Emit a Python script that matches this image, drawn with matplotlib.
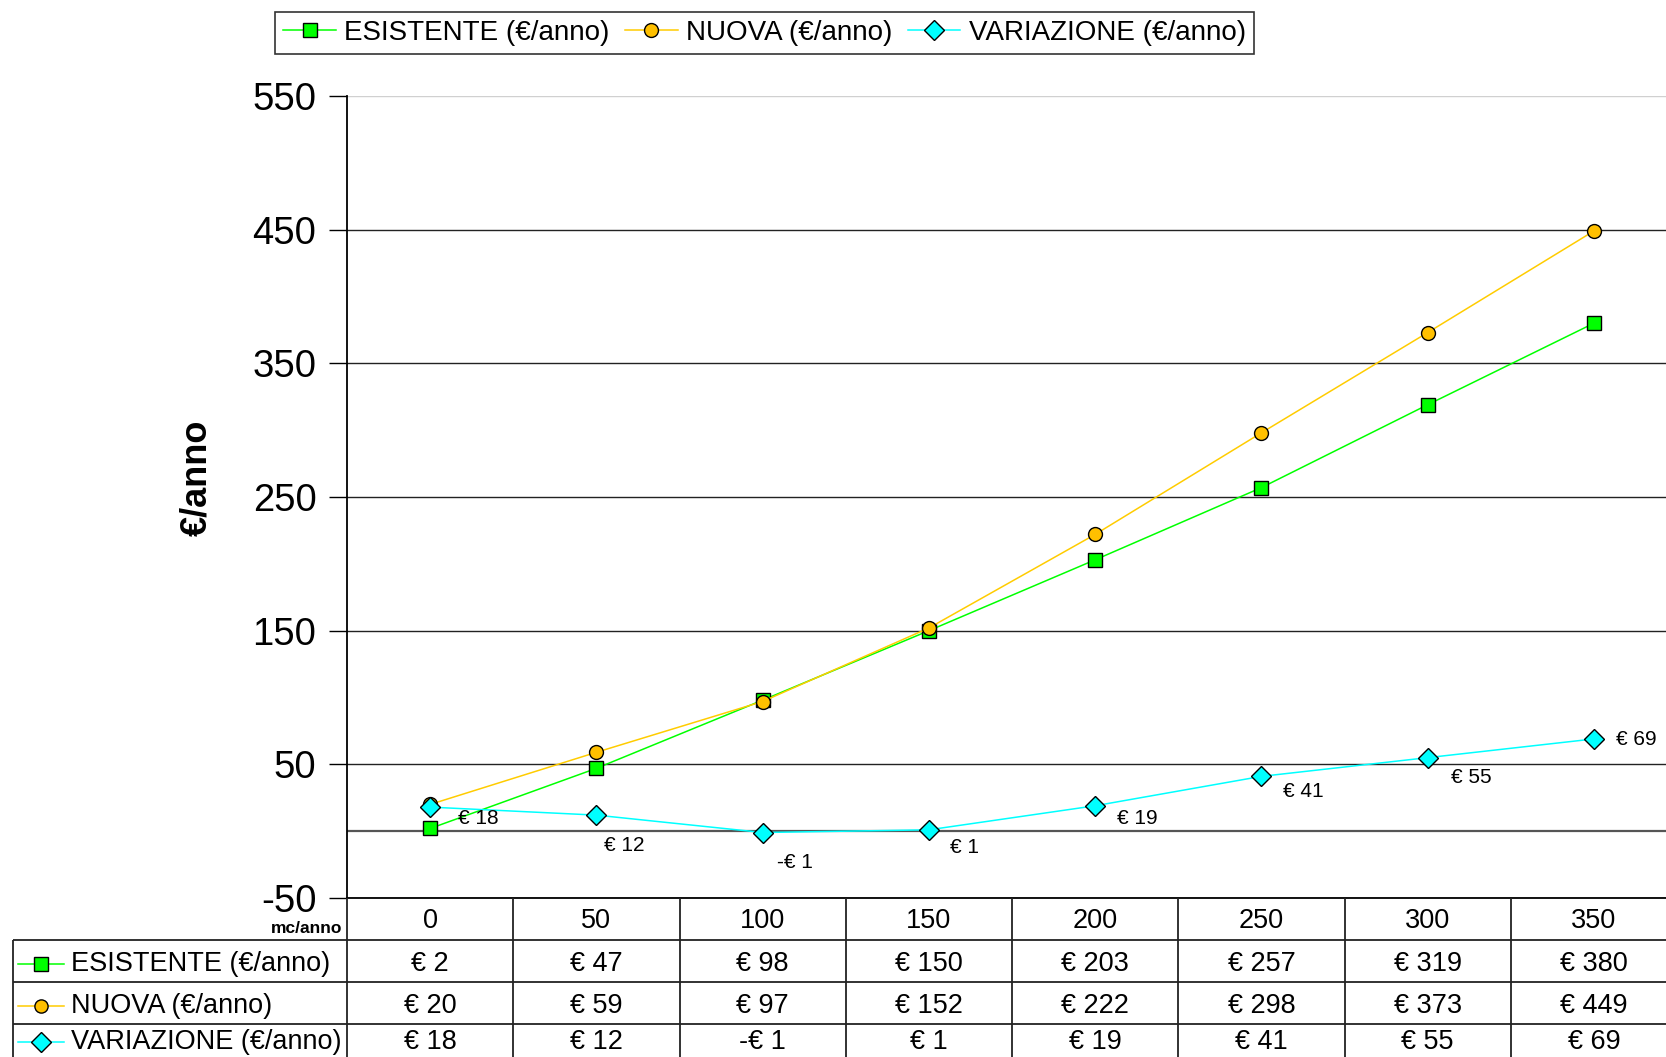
import numpy as np
import matplotlib.pyplot as plt
from matplotlib.lines import Line2D

plt.rcParams['font.family'] = ['Liberation Sans', 'DejaVu Sans']

# ---- data ----------------------------------------------------------------
consumi    = [0, 50, 100, 150, 200, 250, 300, 350]          # mc/anno
esistente  = [2, 47, 98, 150, 203, 257, 319, 380]           # €/anno
nuova      = [20, 59, 97, 152, 222, 298, 373, 449]          # €/anno
variazione = [18, 12, -1, 1, 19, 41, 55, 69]                # €/anno
nomi       = ['ESISTENTE (€/anno)', 'NUOVA (€/anno)', 'VARIAZIONE (€/anno)']
y_ticks    = [-50, 50, 150, 250, 350, 450, 550]

# label offsets (pixels) for the VARIAZIONE data labels
lbl_dx = [48, 28, 32, 36, 42, 42, 44, 42]
lbl_dy = [-11, -30, -30, -18, -13, -15, -20, -1]


def euro(v):
    return f'-€ {abs(v)}' if v < 0 else f'€ {v}'


W, H = 1666, 1057
fig = plt.figure(figsize=(W / 100, H / 100), dpi=100)

styles = [
    dict(color='#00FF00', marker='s', markerfacecolor='#00FF00', markersize=10),
    dict(color='#FFCC00', marker='o', markerfacecolor='#FFC000', markersize=10),
    dict(color='#00FFFF', marker='D', markerfacecolor='#00FFFF', markersize=10.5),
]
for s in styles:
    s.update(markeredgecolor='black', markeredgewidth=1.0, linewidth=1.1)

# ---- main plot -----------------------------------------------------------
COL_W = (1677 - 347) / 8
ax = fig.add_axes([347 / W, 1 - 898 / H, (1677 - 347) / W, (898 - 96) / H])
x = np.arange(len(consumi))
serie = [esistente, nuova, variazione]
for vals, st in zip(serie, styles):
    ax.plot(x, vals, zorder=3, clip_on=False, **st)

for i, v in enumerate(variazione):
    ax.annotate(euro(v), (x[i], v), xytext=(lbl_dx[i], lbl_dy[i]),
                textcoords='offset pixels', ha='center', va='center',
                fontsize=15, zorder=4)

ax.set_xlim(-0.5, 7.5)
ax.set_ylim(-50, 550)
ax.set_yticks(y_ticks)
ax.set_yticklabels([str(t) for t in y_ticks], fontsize=27.5)
ax.set_xticks([])
ax.tick_params(axis='y', length=13, width=1, pad=9, direction='out')
ax.yaxis.grid(True, color='#222222', linewidth=1.0)
ax.get_ygridlines()[-1].set_color('#d0d0d0')
ax.axhline(0, color='#555555', linewidth=1.6, zorder=2)
ax.set_axisbelow(True)
for side in ['top', 'right']:
    ax.spines[side].set_visible(False)
ax.spines['left'].set_linewidth(1.3)
ax.spines['bottom'].set_linewidth(1.3)

fig.text(197 / W, 1 - 478 / H, '€/anno', rotation=90, ha='center', va='center',
         fontsize=26, fontweight='bold')

# ---- data table ----------------------------------------------------------
tax = fig.add_axes([13 / W, 1 - 1066 / H, (1677 - 13) / W, 168 / H])
xmin = -0.5 - (347 - 13) / COL_W
tax.set_xlim(xmin, 7.5)
tax.set_ylim(4, 0)
tax.axis('off')

lc = '#222222'
for k in range(9):
    tax.vlines(-0.5 + k, 0, 4, color=lc, linewidth=1.3, clip_on=False)
tax.vlines(xmin, 1, 4, color=lc, linewidth=1.3, clip_on=False)
tax.hlines([1, 2, 3], xmin, 7.5, color=lc, linewidth=1.3, clip_on=False)

for i, c in enumerate(consumi):
    tax.text(x[i], 0.55, str(c), ha='center', va='center', fontsize=19.5)
tax.text(-0.53, 0.72, 'mc/anno', ha='right', va='center', fontsize=12.5,
         fontweight='bold')

# the last row is cut by the figure edge: keep its text inside the picture
row_y = [1.58, 2.58, 3.42]
px = lambda p: xmin + (p - 13) / COL_W
for yy, vals, nome, st in zip(row_y, serie, nomi, styles):
    for i, v in enumerate(vals):
        tax.text(x[i], yy, euro(v), ha='center', va='center', fontsize=19.5)
    tax.plot([px(18), px(64)], [yy, yy], color=st['color'],
             linewidth=st['linewidth'])
    tax.plot([px(41)], [yy], linestyle='none', marker=st['marker'],
             markerfacecolor=st['markerfacecolor'], markeredgecolor='black',
             markersize=st['markersize'] * 0.95)
    tax.text(px(71), yy, nome, ha='left', va='center', fontsize=19.5)

# ---- legend --------------------------------------------------------------
handles = [Line2D([], [], **st) for st in styles]
leg = fig.legend(handles, nomi, loc='center',
                 bbox_to_anchor=((275 + 1254) / 2 / W, 1 - 33 / H),
                 ncol=3, fontsize=20, frameon=True, fancybox=False,
                 edgecolor='black', handlelength=1.9, handletextpad=0.3,
                 columnspacing=0.55, borderpad=0.3, borderaxespad=0)
leg.get_frame().set_linewidth(1.2)

fig.savefig('out.png', dpi=100)
